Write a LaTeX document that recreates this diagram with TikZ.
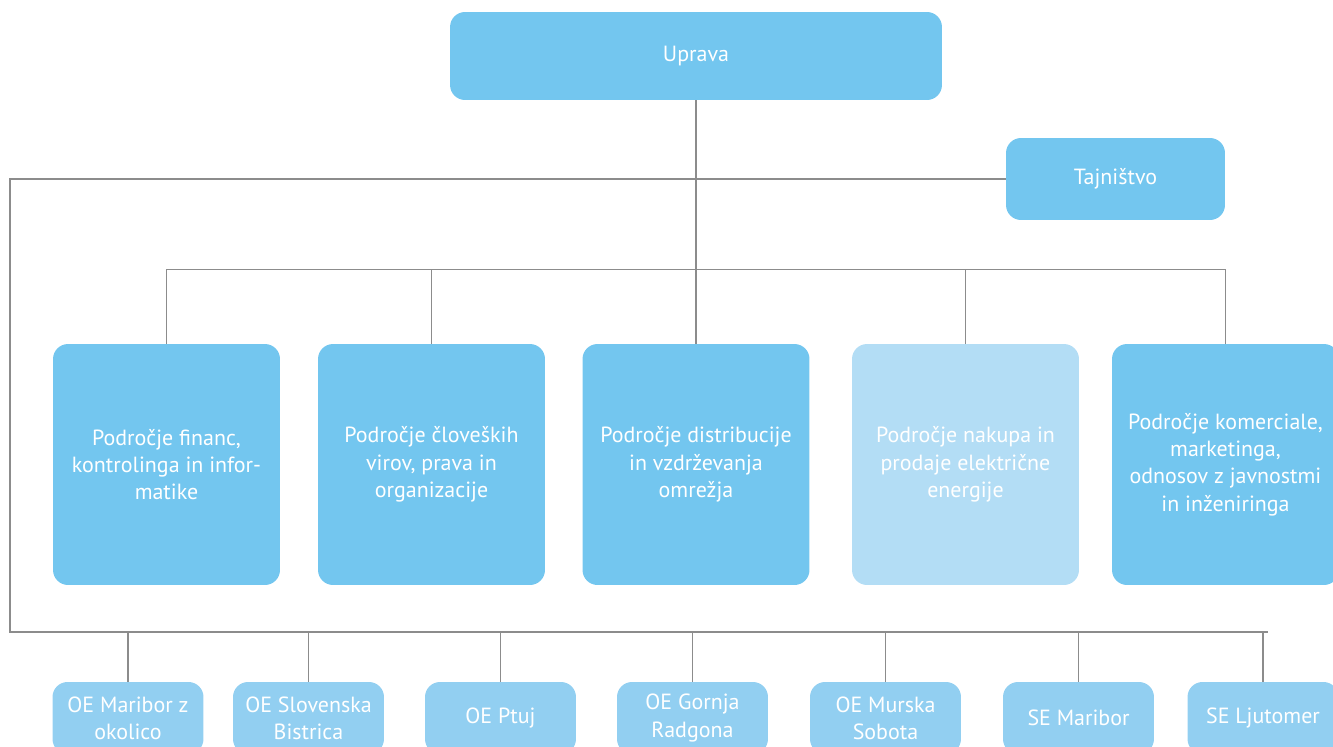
\documentclass[tikz,border=0pt]{standalone}
\usepackage{fontspec}
\setmainfont{PT Sans}
\definecolor{modra}{HTML}{73C6EF}
\definecolor{svetla}{HTML}{B3DDF5}
\definecolor{enota}{HTML}{92CFF1}
\definecolor{crta}{HTML}{8C8C8C}

\begin{document}
\begin{tikzpicture}[x=0.02cm, y=-0.02cm,
        okvir/.style={fill=modra, rounded corners=0.3cm, text=white, align=center, inner sep=0pt, font=\fontsize{12.5}{15.5}\selectfont},
        podrocje/.style={okvir, minimum width=4.54cm, minimum height=4.82cm},
        enotabox/.style={okvir, fill=enota, minimum width=3.02cm, minimum height=1.44cm},
        povezava/.style={draw=crta, line width=0.9pt}]
        \useasboundingbox (0,0) rectangle (1333,747);
        \clip (0,0) rectangle (1333,747);

        \node[okvir, minimum width=9.84cm, minimum height=1.76cm] (uprava) at (696,56) {\raisebox{-2pt}{Uprava}};
        \node[okvir, minimum width=4.38cm, minimum height=1.64cm] (tajnistvo) at (1115.5,179) {Tajništvo};

        \foreach \x/\i/\barva/\besedilo in {166.5/1/modra/{Področje financ,\\kontrolinga in infor-\\matike},
            431.5/2/modra/{Področje človeških\\virov, prava in\\organizacije},
            696/3/modra/{Področje distribucije\\in vzdrževanja\\omrežja},
            965.5/4/svetla/{Področje nakupa in\\prodaje električne\\energije},
            1225.5/5/modra/{Področje komerciale,\\marketinga,\\odnosov z javnostmi\\in inženiringa}}{
            \node[podrocje, fill=\barva] (pod\i) at (\x,464.5) {\besedilo};
        }

        \foreach \x/\i/\besedilo in {128/1/{OE Maribor z\\okolico}, 308.5/2/{OE Slovenska\\Bistrica}, 500.5/3/{OE Ptuj},
            692.5/4/{OE Gornja\\Radgona}, 885.5/5/{OE Murska\\Sobota}, 1078.5/6/{SE Maribor}, 1263/7/{SE Ljutomer}}{
            \node[enotabox] (oe\i) at (\x,718) {\besedilo};
        }

        \coordinate (levo) at (10,632);
        \coordinate (desno) at (1268,632);

        % povezave
        \draw[povezava] (uprava.south) -- (pod3.north);
        \draw[povezava] (pod1.north) -- ++(0,-74) -| (pod5.north);
        \draw[povezava] (pod2.north) -- ++(0,-74);
        \draw[povezava] (pod4.north) -- ++(0,-74);
        \draw[povezava] (tajnistvo.west) -| (levo) -- (desno);
        \foreach \i in {1,...,7}{
            \draw[povezava] (oe\i.north) -- ++(0,-50);
        }
    \end{tikzpicture}
\end{document}
